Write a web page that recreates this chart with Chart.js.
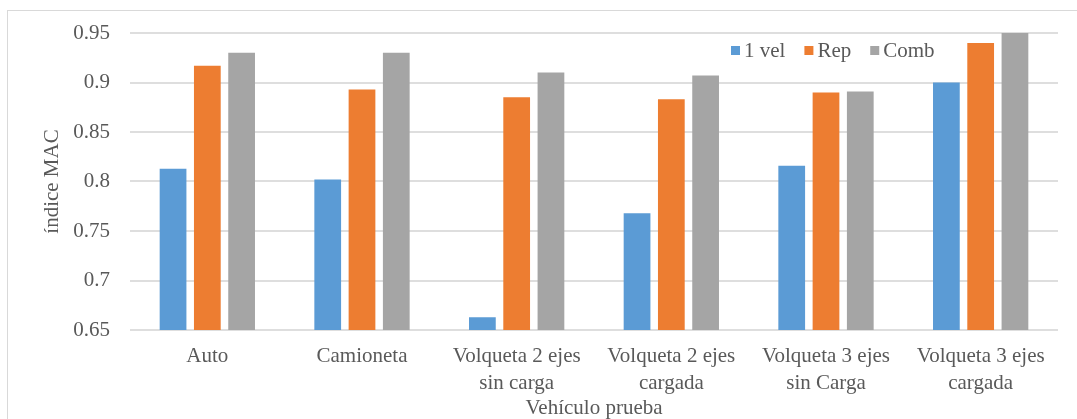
<!DOCTYPE html>
<html>
<head>
<meta charset="utf-8">
<script src="https://cdn.jsdelivr.net/npm/chart.js@4.4.1/dist/chart.umd.min.js"></script>
<style>
    html, body { margin: 0; padding: 0; background: #fff; overflow: hidden; }
    #frame { position: absolute; left: 7px; top: 10px; width: 1100px; height: 440px; border: 1px solid #d9d9d9; }
    #MacChartParent { position: absolute; left: 0; top: 0; width: 1077px; height: 419px; }
</style>
</head>
<body>
<div id="frame"></div>
<div id="MacChartParent"><canvas id="MacChart" width="1077" height="419"></canvas></div>
<script>
var Vehiculos = [
    'Auto',
    'Camioneta',
    ['Volqueta 2 ejes', 'sin carga'],
    ['Volqueta 2 ejes', 'cargada'],
    ['Volqueta 3 ejes', 'sin Carga'],
    ['Volqueta 3 ejes', 'cargada']
];
var UnaVel = [0.813, 0.802, 0.663, 0.768, 0.816, 0.900];
var Rep = [0.917, 0.893, 0.885, 0.883, 0.890, 0.940];
var Comb = [0.930, 0.930, 0.910, 0.907, 0.891, 0.951];
var TicksMAC = ['0.65', '0.7', '0.75', '0.8', '0.85', '0.9', '0.95'];

var FontName = '"Liberation Serif", serif';
var TextColor = '#595959';

// legend drawn inside the plot, top right
var LegendInside = {
    id: 'legendInside',
    afterDraw: function (chart) {
        var ctx = chart.ctx;
        var x = 731, y = 51, box = 9;
        ctx.save();
        ctx.font = '21px ' + FontName;
        ctx.textBaseline = 'middle';
        ctx.textAlign = 'left';
        chart.data.datasets.forEach(function (ds) {
            ctx.fillStyle = ds.backgroundColor;
            ctx.fillRect(x, y - 5, box, box);
            x += box + 4;
            ctx.fillStyle = TextColor;
            ctx.fillText(ds.label, x, y);
            x += ctx.measureText(ds.label).width + 19;
        });
        ctx.restore();
    }
};

function BuildChart() {
    var MacCtx = document.getElementById('MacChart').getContext('2d');
    new Chart(MacCtx, {
        type: 'bar',
        data: {
            labels: Vehiculos,
            datasets: [
                { label: '1 vel', data: UnaVel, backgroundColor: '#5B9BD5' },
                { label: 'Rep', data: Rep, backgroundColor: '#ED7D31' },
                { label: 'Comb', data: Comb, backgroundColor: '#A5A5A5' }
            ]
        },
        options: {
            responsive: false,
            animation: false,
            layout: { padding: { top: 33, right: 19, left: 0, bottom: 0 } },
            datasets: {
                bar: { categoryPercentage: 0.665, barPercentage: 0.78 }
            },
            plugins: {
                legend: { display: false },
                tooltip: { enabled: false }
            },
            scales: {
                x: {
                    grid: { display: false },
                    border: { display: false },
                    ticks: {
                        color: TextColor,
                        padding: 5,
                        maxRotation: 0,
                        autoSkip: false,
                        font: { family: FontName, size: 21, lineHeight: 1.3 }
                    },
                    title: {
                        display: true,
                        text: 'Vehículo prueba',
                        color: TextColor,
                        padding: 0,
                        font: { family: FontName, size: 21, lineHeight: 1.0 }
                    },
                    afterFit: function (axis) { axis.height = 89; }
                },
                y: {
                    min: 0.65,
                    max: 0.95,
                    grid: { color: '#dedede', lineWidth: 2, drawTicks: false },
                    border: { display: false },
                    ticks: {
                        stepSize: 0.05,
                        color: TextColor,
                        padding: 20,
                        font: { family: FontName, size: 21 },
                        callback: function (v, i) { return TicksMAC[i]; }
                    },
                    title: {
                        display: true,
                        text: 'índice MAC',
                        color: TextColor,
                        padding: { top: 40, bottom: 0 },
                        font: { family: FontName, size: 21, lineHeight: 1.2 }
                    },
                    afterFit: function (axis) { axis.width = 130; }
                }
            }
        },
        plugins: [LegendInside]
    });
}

document.fonts.load('21px "Liberation Serif"').then(BuildChart, BuildChart);
</script>
</body>
</html>
